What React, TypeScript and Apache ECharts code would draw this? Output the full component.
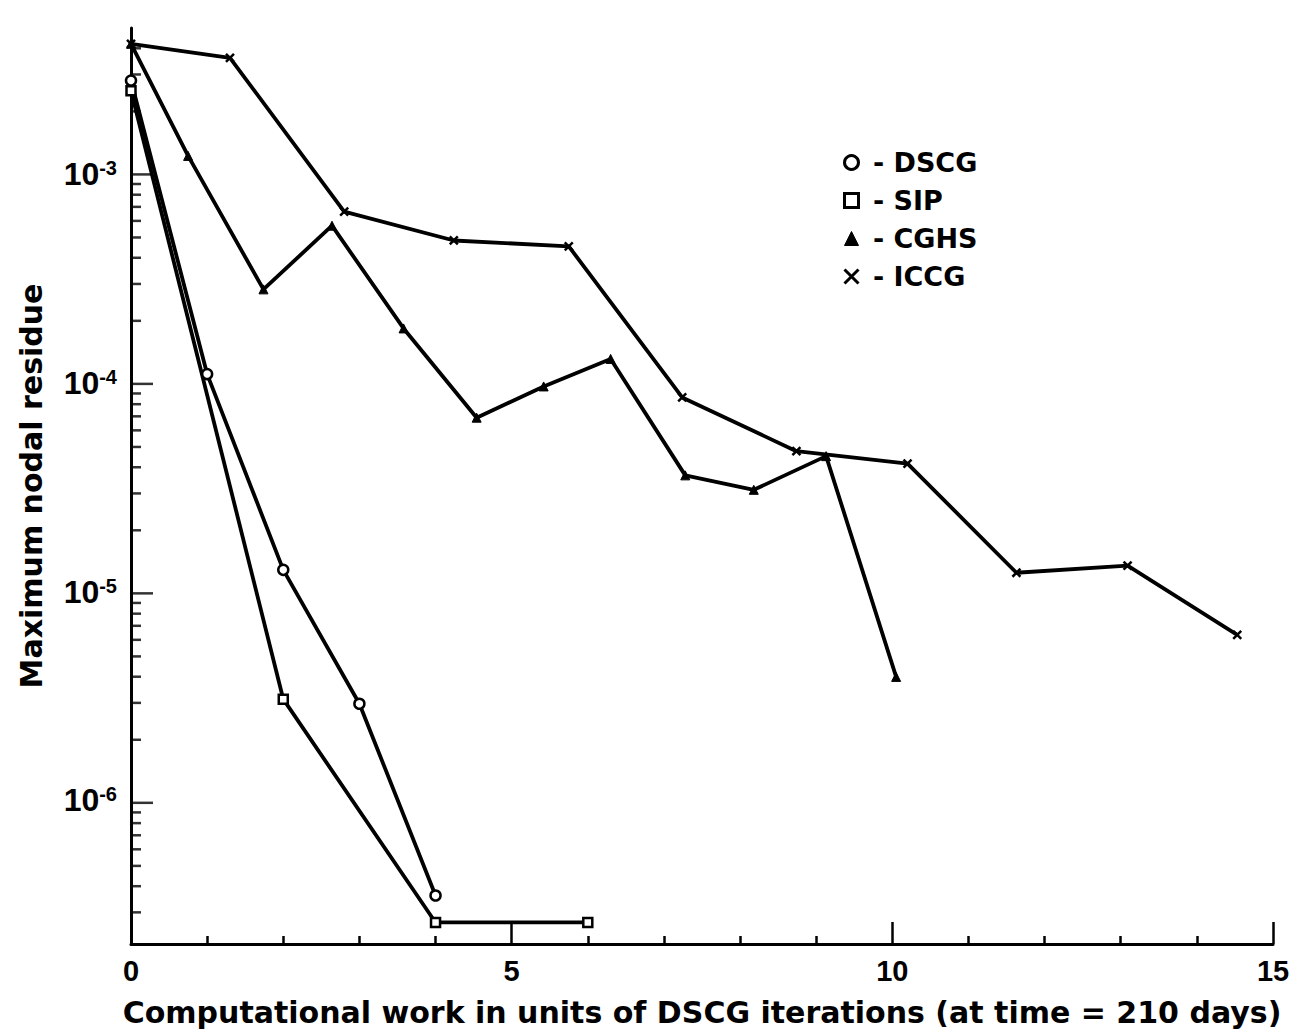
import React, { useEffect, useRef } from "react";
import * as echarts from "echarts";

// ---- data ----
const dscgX = [0, 1, 2, 3, 4];
const dscgY = [2.8e-3, 1.1e-4, 1.27e-5, 2.9e-6, 3.5e-7];

const sipX = [0, 2, 4, 6];
const sipY = [2.5e-3, 3.05e-6, 2.6e-7, 2.6e-7];

const cghsX = [0, 0.75, 1.74, 2.64, 3.58, 4.54, 5.42, 6.3, 7.28, 8.18, 9.13, 10.05];
const cghsY = [4.2e-3, 1.22e-3, 2.8e-4, 5.65e-4, 1.82e-4, 6.8e-5, 9.6e-5, 1.3e-4, 3.6e-5, 3.07e-5, 4.45e-5, 3.9e-6];

const iccgX = [0, 1.3, 2.8, 4.24, 5.75, 7.24, 8.74, 10.2, 11.63, 13.09, 14.53];
const iccgY = [4.2e-3, 3.6e-3, 6.6e-4, 4.8e-4, 4.5e-4, 8.5e-5, 4.7e-5, 4.1e-5, 1.23e-5, 1.33e-5, 6.2e-6];

const seriesNames = ["DSCG", "SIP", "CGHS", "ICCG"];

// axis
const X_MIN = 0;
const X_MAX = 15;
const X_INTERVAL = 5;
const Y_MIN = 2.05e-7;
const Y_MAX = 5e-3;
const yDecadeExps = [-7, -6, -5, -4, -3];
const yMinorMults = [2, 3, 4, 5, 6, 7, 8, 9];

const xTitle = "Computational work in units of DSCG iterations (at time = 210 days)";
const yTitle = "Maximum nodal residue";

const zip = (xs: number[], ys: number[]) => xs.map((x, i) => [x, ys[i]]);

const GRID = { left: 131, right: 21, top: 28, bottom: 85 };
const WIDTH = 1294;
const HEIGHT = 1032;

export default function App() {
  const ref = useRef<HTMLDivElement>(null);
  const tickRef = useRef<HTMLDivElement>(null);

  useEffect(() => {
    if (!ref.current || !tickRef.current) return;
    const chart = echarts.init(ref.current, undefined, { renderer: "svg" });
    const tickChart = echarts.init(tickRef.current, undefined, { renderer: "svg" });

    const black = "#000";
    const lbl = { fontFamily: "Liberation Sans", fontWeight: "bold" as const, color: black };
    const title = { fontFamily: "DejaVu Sans", fontWeight: "bold" as const, color: black, fontSize: 30 };

    const lineBase = {
      type: "line" as const,
      lineStyle: { color: black, width: 3.8 },
      symbolSize: 10,
      z: 3,
    };

    chart.setOption({
      animation: false,
      grid: GRID,
      legend: {
        orient: "vertical",
        left: 838,
        top: 144,
        itemWidth: 14,
        itemHeight: 14,
        itemGap: 11,
        formatter: " - {name}",
        textStyle: { fontFamily: "DejaVu Sans", fontWeight: "bold", fontSize: 27, lineHeight: 26, color: black },
        lineStyle: { width: 0 },
        data: [
          { name: "DSCG", icon: "circle", itemStyle: { color: "#fff", borderColor: black, borderWidth: 3 } },
          { name: "SIP", icon: "rect", itemStyle: { color: "#fff", borderColor: black, borderWidth: 3 } },
          { name: "CGHS", icon: "triangle", itemStyle: { color: black, borderColor: black, borderWidth: 1 } },
          {
            name: "ICCG",
            icon: "path://M0,0L10,10M10,0L0,10",
            itemStyle: { color: black, borderColor: black, borderWidth: 3 },
          },
        ],
      },
      xAxis: {
        type: "value",
        min: X_MIN,
        max: X_MAX,
        interval: X_INTERVAL,
        axisLine: { show: true, onZero: false, lineStyle: { color: black, width: 3 } },
        axisTick: { show: true, inside: true, length: 22, lineStyle: { color: black, width: 2.5 } },
        minorTick: { show: true, splitNumber: 5, length: 8, lineStyle: { color: black, width: 2.5 } },
        splitLine: { show: false },
        axisLabel: { ...lbl, fontSize: 29, margin: 12 },
        name: xTitle,
        nameLocation: "middle",
        nameGap: 53,
        nameTextStyle: title,
      },
      yAxis: {
        type: "log",
        logBase: 10,
        min: Y_MIN,
        max: Y_MAX,
        axisLine: { show: true, onZero: false, lineStyle: { color: black, width: 3 } },
        axisTick: { show: false },
        splitLine: { show: false },
        axisLabel: {
          margin: 14,
          showMinLabel: false,
          showMaxLabel: false,
          formatter: (v: number) => {
            const e = Math.log10(v);
            const r = Math.round(e);
            if (Math.abs(e - r) > 1e-3) return "";
            return `{b|10}{s|${r < 0 ? "-" : ""}${Math.abs(r)}}`;
          },
          rich: {
            b: { ...lbl, fontSize: 32 },
            s: { ...lbl, fontSize: 20, verticalAlign: "top" },
          },
        },
        name: yTitle,
        nameLocation: "middle",
        nameGap: 85,
        nameRotate: 90,
        nameTextStyle: title,
      },
      series: [
        {
          ...lineBase,
          name: seriesNames[0],
          data: zip(dscgX, dscgY),
          symbol: "circle",
          itemStyle: { color: "#fff", borderColor: black, borderWidth: 2.5 },
        },
        {
          ...lineBase,
          name: seriesNames[1],
          data: zip(sipX, sipY),
          symbol: "rect",
          symbolSize: 9,
          itemStyle: { color: "#fff", borderColor: black, borderWidth: 2.5 },
        },
        {
          ...lineBase,
          name: seriesNames[2],
          data: zip(cghsX, cghsY),
          symbol: "triangle",
          symbolSize: 9,
          itemStyle: { color: black, borderColor: black, borderWidth: 1 },
        },
        {
          ...lineBase,
          name: seriesNames[3],
          data: zip(iccgX, iccgY),
          symbol: "path://M0,0L10,10M10,0L0,10",
          symbolSize: 8,
          itemStyle: { color: black, borderColor: black, borderWidth: 2.5 },
        },
      ],
    });

    // y-axis tick marks on an overlaid chart with the same grid and log axis:
    // major at decades, minor at 2..9 x decade
    const tickData: any[] = [];
    const addTick = (v: number, len: number) =>
      tickData.push({ value: [X_MIN, v], symbolSize: [len, 2.5], symbolOffset: [len / 2, 0] });
    yDecadeExps.forEach((e) => {
      const d = Math.pow(10, e);
      if (d >= Y_MIN && d <= Y_MAX) addTick(d, 22);
      yMinorMults.forEach((m) => {
        const v = m * d;
        if (v > Y_MIN && v < Y_MAX) addTick(v, 10);
      });
    });
    tickChart.setOption({
      animation: false,
      grid: GRID,
      xAxis: {
        type: "value",
        min: X_MIN,
        max: X_MAX,
        axisLine: { show: false },
        axisTick: { show: false },
        axisLabel: { show: false },
        splitLine: { show: false },
      },
      yAxis: {
        type: "log",
        min: Y_MIN,
        max: Y_MAX,
        axisLine: { show: false },
        axisTick: { show: false },
        axisLabel: { show: false },
        splitLine: { show: false },
      },
      series: [
        {
          type: "scatter",
          symbol: "rect",
          itemStyle: { color: black },
          data: tickData,
        },
      ],
    });

    return () => {
      chart.dispose();
      tickChart.dispose();
    };
  }, []);

  return (
    <div style={{ position: "fixed", left: 0, top: 0, width: WIDTH, height: HEIGHT, background: "#fff" }}>
      <div ref={ref} style={{ position: "absolute", left: 0, top: 0, width: WIDTH, height: HEIGHT }} />
      <div
        ref={tickRef}
        style={{ position: "absolute", left: 0, top: 0, width: WIDTH, height: HEIGHT, pointerEvents: "none" }}
      />
    </div>
  );
}
